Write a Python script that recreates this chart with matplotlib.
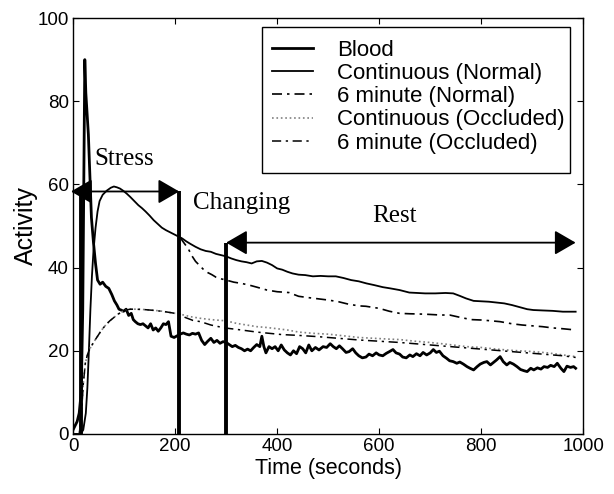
import matplotlib
matplotlib.use('Agg')
import matplotlib.pyplot as plt
from matplotlib.patches import Rectangle

plt.rcParams['font.family'] = ['Liberation Sans', 'DejaVu Sans']
plt.rcParams['font.size'] = 13

###  DATA  ###

blood_t = [0, 4, 8, 12, 16, 19, 21, 23, 25, 27, 30, 33, 36, 40, 44, 48, 53, 58, 64, 70,
           76, 81, 86, 90, 94, 99, 104, 109, 114, 118, 122, 127, 132, 137, 142, 147, 152,
           157, 162, 167, 172, 177, 182, 187, 192, 198, 204, 210, 216, 222, 228, 234, 240,
           246, 252, 258, 264, 270, 276, 282, 288, 294, 300, 306, 312, 318, 324, 330, 336,
           342, 348, 354, 360, 366, 370, 374, 378, 384, 390, 396, 402, 408, 414, 420, 426,
           432, 438, 444, 450, 456, 462, 468, 475, 482, 490, 497, 504, 510, 516, 522, 528,
           535, 541, 548, 554, 560, 567, 574, 580, 587, 594, 600, 607, 614, 620, 627, 633,
           640, 646, 653, 660, 666, 673, 680, 686, 693, 700, 706, 712, 718, 725, 732, 738,
           745, 752, 758, 765, 772, 778, 785, 792, 798, 805, 811, 818, 824, 830, 837, 843,
           850, 856, 863, 870, 877, 884, 890, 897, 903, 910, 917, 923, 930, 936, 943, 949,
           956, 962, 968, 975, 981, 985]
blood = [1, 2, 3, 5, 10, 30, 60, 90, 82, 78, 72, 62, 52, 46, 41, 37, 36, 36.5, 35.5, 35,
         33.5, 32, 31, 30, 29.8, 29.5, 30, 28.5, 29, 27.5, 27, 26.5, 26.3, 26.5, 26, 25.5, 26.5,
         25, 25.5, 24.7, 25.5, 26.5, 26.3, 27, 23.5, 23.2, 23.6, 24, 24.3, 24, 23.8, 24.2, 24,
         24.3, 22.5, 21.5, 22.3, 23, 22, 22.5, 21.8, 22.2, 22, 21.5, 21, 21.3, 20.8, 20.5, 20,
         20.4, 20, 20.8, 21.5, 21, 23.5, 21, 19.5, 21, 20.5, 21, 20, 21.4, 20.2, 19.5, 19,
         20, 19.3, 21, 20.5, 19.5, 21.4, 20, 20.8, 20.2, 21, 20.8, 21.7, 21, 20.5, 21.2, 20.5,
         19.6, 19.8, 20.5, 19.5, 18.8, 18.3, 18.5, 19.2, 18.8, 19.5, 19, 18.8, 19.4, 19.8, 20.3, 19.5,
         19.2, 18.5, 18.3, 19, 18.6, 19.3, 18.8, 19.6, 19, 19.5, 20.3, 19.6, 19.9, 18.8, 18.2, 17.6,
         17.4, 17, 17.3, 16.8, 16.2, 15.8, 15.4, 16.2, 16.8, 17.2, 17.4, 16.6, 17.2, 17.8, 18.6, 17.4,
         16.6, 17.2, 16.8, 16.2, 15.5, 15.2, 15, 15.8, 15.4, 15.9, 15.6, 16.2, 16, 16.5, 16.2, 17,
         15.8, 15, 16.3, 16, 16.2, 15.8]

cont_norm_t = [0, 15, 20, 25, 28, 31, 34, 37, 40, 44, 48, 52, 58, 66, 74, 80, 86, 92, 98,
               105, 112, 120, 128, 135, 142, 150, 158, 166, 174, 182, 190, 198, 206, 214, 222,
               230, 240, 250, 260, 270, 280, 290, 300, 310, 320, 330, 340, 350, 360, 370, 380,
               390, 400, 410, 420, 430, 442, 455, 470, 485, 500, 515, 530, 545, 560, 575, 590,
               607, 622, 640, 659, 675, 690, 710, 730, 745, 758, 770, 785, 800, 815, 830, 845,
               860, 875, 890, 902, 920, 940, 960, 985]
cont_norm = [0, 0, 1, 5, 11, 20, 30, 38, 44, 49.5, 53.5, 56, 57.5, 58.5, 59.2, 59.5, 59.3, 59, 58.5,
             57.8, 57, 56, 55, 54.3, 53.5, 52.5, 51.4, 50.5, 49.6, 49, 48.5, 48, 47.5, 47, 46.3,
             45.7, 45, 44.4, 44, 43.8, 43.3, 43, 42.7, 42.2, 41.8, 41.5, 41.3, 41, 41.5, 41.6, 41.2,
             40.6, 39.8, 39.5, 39, 38.6, 38.3, 38.2, 37.9, 38, 37.9, 37.9, 37.5, 37, 36.7, 36.2, 35.8,
             35.3, 35, 34.6, 34, 33.9, 33.8, 33.8, 33.9, 33.8, 33.2, 32.6, 32, 31.9, 31.8, 31.6, 31.4,
             31, 30.5, 30, 29.8, 29.7, 29.6, 29.4, 29.4]

six_norm_t = [210, 214, 220, 226, 232, 240, 248, 256, 264, 272, 280, 290, 300, 315, 330, 345,
              360, 380, 400, 423, 442, 460, 480, 500, 520, 540, 560, 574, 600, 620, 640, 660,
              690, 720, 738, 760, 780, 800, 820, 837, 860, 880, 900, 920, 940, 960, 985]
six_norm = [47.3, 46.5, 45.5, 44.5, 43, 41.5, 40.5, 39.5, 38.8, 38.3, 37.7, 37.3, 37, 36.5, 36.2,
            35.8, 35.3, 34.6, 34.2, 34, 33.1, 32.8, 32.5, 32.2, 31.8, 31.2, 30.8, 30.7, 30.2, 29.5,
            29, 28.9, 28.8, 28.6, 28.6, 28, 27.5, 27.4, 27.2, 27, 26.5, 26.2, 26, 25.8, 25.5, 25.3, 25]

cont_occ_t = [0, 12, 16, 20, 24, 28, 33, 40, 48, 56, 64, 72, 80, 88, 96, 104, 112, 120, 130,
              140, 150, 160, 170, 180, 190, 200, 210, 230, 250, 270, 300, 320, 340, 360, 380,
              400, 420, 442, 470, 500, 530, 560, 590, 620, 640, 670, 700, 730, 771, 800, 830,
              860, 902, 930, 960, 985]
cont_occ = [0, 0, 4, 12, 17, 19, 20.5, 22, 23.5, 25, 26.2, 27.2, 28, 28.8, 29.4, 29.8, 30, 30,
            30, 29.9, 29.8, 29.7, 29.6, 29.4, 29.2, 29, 28.8, 28.2, 27.8, 27.5, 27.2, 26.6, 26.2,
            25.8, 25.6, 25.3, 25, 24.5, 24.2, 24, 23.6, 23.2, 23, 22.8, 22.7, 22.3, 22, 21.6, 21,
            20.8, 20.4, 20.1, 19.8, 19.5, 19, 18.6]

six_occ_t = [0, 12, 16, 20, 24, 28, 33, 40, 48, 56, 64, 72, 80, 88, 96, 104, 112, 120, 140,
             160, 180, 200, 210, 220, 235, 250, 270, 297, 330, 360, 409, 442, 480, 520, 560,
             600, 640, 680, 720, 760, 800, 840, 880, 920, 960, 985]
six_occ = [0, 0, 4, 12, 17, 19, 20.5, 22, 23.5, 25, 26.2, 27.2, 28, 28.8, 29.4, 29.8, 30, 30,
           29.9, 29.7, 29.4, 29, 28.8, 28, 27.3, 27, 26.2, 25.5, 25, 24.5, 23.9, 23.7, 23.4, 23,
           22.6, 22.3, 22, 21.6, 21.2, 20.8, 20.4, 20, 19.6, 19.2, 18.8, 18.4]

series_labels = ['Blood', 'Continuous (Normal)', '6 minute (Normal)',
                 'Continuous (Occluded)', '6 minute (Occluded)']

# phase markers: (time, top of line)
phase_lines = [(15, 58.5), (208, 58.5), (300, 46)]
stress_span = (-4, 208, 58.3)
rest_span = (300, 985, 46)

###  PLOT  ###

fig = plt.figure(figsize=(6.14, 4.94), dpi=100)
ax = fig.add_axes([0.119, 0.1215, 0.831, 0.842])

dashdot = (0, (6, 3, 1.5, 3))
ax.plot(blood_t, blood, color='k', lw=2.0, label=series_labels[0])
ax.plot(cont_norm_t, cont_norm, color='k', lw=1.3, label=series_labels[1])
ax.plot(six_norm_t, six_norm, color='k', lw=1.2, linestyle=dashdot, label=series_labels[2])
ax.plot(cont_occ_t, cont_occ, color='0.5', lw=1.2, linestyle=':', label=series_labels[3])
ax.plot(six_occ_t, six_occ, color='k', lw=1.1, linestyle=dashdot, label=series_labels[4])

for t, top in phase_lines:
    ax.plot([t, t], [0, top], color='k', lw=2.8, solid_capstyle='butt')

arrow = dict(arrowstyle='<|-|>,head_length=1.0,head_width=0.58', mutation_scale=13,
             lw=1.3, color='k', shrinkA=0, shrinkB=0)
ax.annotate('', xy=(stress_span[0], stress_span[2]), xytext=(stress_span[1], stress_span[2]),
            arrowprops=arrow, annotation_clip=False)
ax.annotate('', xy=(rest_span[0], rest_span[2]), xytext=(rest_span[1], rest_span[2]),
            arrowprops=arrow, annotation_clip=False)

serif = ['Liberation Serif', 'DejaVu Serif']
ax.text(42, 66, 'Stress', family=serif, fontsize=18, va='center')
ax.text(236, 55.5, 'Changing', family=serif, fontsize=18, va='center')
ax.text(586, 52.5, 'Rest', family=serif, fontsize=18, va='center')

ax.set_xlim(0, 1000)
ax.set_ylim(0, 100)
ax.set_xticks([0, 200, 400, 600, 800, 1000])
ax.set_yticks([0, 20, 40, 60, 80, 100])
ax.tick_params(direction='in', top=True, right=True, length=4, width=0.8, labelsize=13.5, pad=3)
for s in ax.spines.values():
    s.set_linewidth(1.0)

ax.set_xlabel('Time (seconds)', fontsize=15.5, labelpad=2)
ax.set_ylabel('Activity', fontsize=18, labelpad=0)

# legend box drawn separately (it is taller than the entries need)
ax.add_patch(Rectangle((0.3706, 0.6274), 0.6039, 0.3506, transform=ax.transAxes,
                       facecolor='white', edgecolor='k', lw=1.0, zorder=4))
leg = ax.legend(loc='upper left', bbox_to_anchor=(0.390, 0.948), borderaxespad=0,
                frameon=False, handlelength=1.85, handletextpad=1.08, labelspacing=0.1,
                borderpad=0, fontsize=16)
leg.set_zorder(5)

fig.savefig('out.png', dpi=100)
